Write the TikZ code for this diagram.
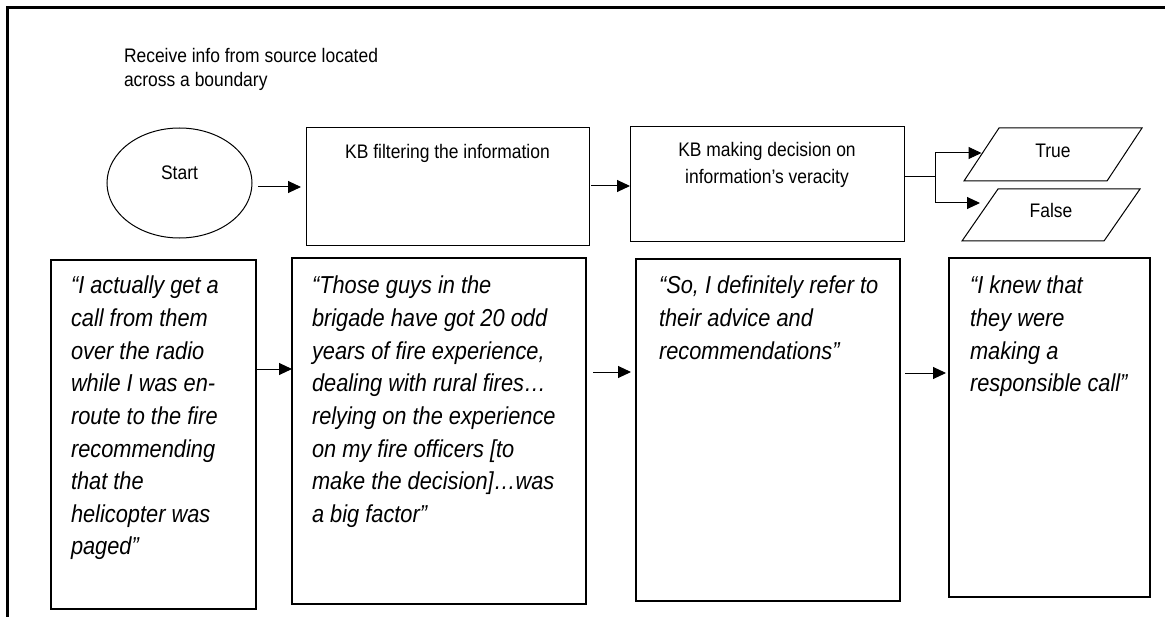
\documentclass[tikz,border=0pt]{standalone}
\usepackage{fontspec}
\setmainfont{Liberation Sans}[FakeStretch=0.89]
\usetikzlibrary{arrows.meta,shapes.geometric}
\begin{document}
\begin{tikzpicture}[x=1bp,y=-1bp,
  every node/.style={inner sep=0pt,outer sep=0pt},
  arr/.style={line width=1bp,-{Triangle[length=13bp,width=12bp]}},
  plain/.style={line width=1bp},
  stepbox/.style={draw,line width=1bp,rectangle},
  quotebox/.style={draw,line width=2bp,rectangle},
  startshape/.style={draw,line width=1bp,ellipse},
  lbl/.style={anchor=base,font=\fontsize{19.6bp}{26.8bp}\selectfont},
  qtext/.style={anchor=base west,font=\fontsize{24.5bp}{32.6bp}\selectfont\itshape}
]
\useasboundingbox (0,0) rectangle (1165,617);

% outer frame
\draw[line width=2.5bp] (7.5,617) -- (7.5,7.5) -- (1165,7.5);

% heading
\node[anchor=base west,font=\fontsize{19.6bp}{24.5bp}\selectfont] (head) at (124,62.5)
  {\parbox[t]{400bp}{Receive info from source located\\across a boundary}};

% process row
\node[startshape,minimum width=145bp,minimum height=110bp] (st) at (179.5,183) {};
\node[lbl] (stt) at (179.5,180) {Start};

\node[stepbox,minimum width=283bp,minimum height=117bp] (b1) at (447.5,186.5) {};
\node[lbl] (b1t) at (447.5,159) {KB filtering the information};

\node[stepbox,minimum width=274bp,minimum height=114bp] (b2) at (767,184) {};
\node[lbl] (b2t) at (767,156.7)
  {\parbox[t]{260bp}{\centering KB making decision on\\information’s veracity}};

% outcome parallelograms
\draw[plain,line join=miter] (964,181) -- (999,128) -- (1142,128) -- (1107,181) -- cycle;
\coordinate (trw) at (981.5,154.5);
\node[lbl] (trt) at (1053,158) {True};
\draw[plain,line join=miter] (962,241) -- (998,189) -- (1140,189) -- (1104,241) -- cycle;
\coordinate (flw) at (980,215);
\node[lbl] (flt) at (1051,218) {False};

% quotation row
\node[quotebox,minimum width=205bp,minimum height=349bp] (qa) at (153.5,434.5) {};
\node[qtext] (qat) at (71,294) {\parbox[t]{200bp}{“I actually get a\\call from them\\over the radio\\while I was en-\\route to the fire\\recommending\\that the\\helicopter was\\paged”}};

\node[quotebox,minimum width=294bp,minimum height=346bp] (qb) at (439,431) {};
\node[qtext] (qbt) at (312,294) {\parbox[t]{280bp}{“Those guys in the\\brigade have got 20 odd\\years of fire experience,\\dealing with rural fires…\\relying on the experience\\on my fire officers [to\\make the decision]…was\\a big factor”}};

\node[quotebox,minimum width=264bp,minimum height=342bp] (qc) at (768,430) {};
\node[qtext] (qct) at (659,294) {\parbox[t]{260bp}{“So, I definitely refer to\\their advice and\\recommendations”}};

\node[quotebox,minimum width=201bp,minimum height=339bp] (qd) at (1049.5,427.5) {};
\node[qtext] (qdt) at (970,294) {\parbox[t]{200bp}{“I knew that\\they were\\making a\\responsible call”}};

% connector heights
\coordinate (r1) at (0,187);
\coordinate (r2) at (0,186);
\coordinate (r3) at (0,369);
\coordinate (r4) at (0,372);
\coordinate (r5) at (0,373);
\coordinate (hb) at (935,177);
\coordinate (bt) at (935,153);
\coordinate (bf) at (935,203);

% arrows of the process row
\draw[arr,shorten <=6bp,shorten >=5bp] (st.east |- r1) -- (b1.west |- r1);
\draw[arr,shorten <=2bp] (b1.east |- r2) -- (b2.west |- r2);
\draw[plain] (b2.east |- hb) -- (hb);
\draw[plain] (bt) -- (bf);
\draw[arr] (bt) -- (bt -| trw);
\draw[arr] (bf) -- (bf -| flw);

% arrows of the quotation row
\draw[arr] (qa.east |- r3) -- (qb.west |- r3);
\draw[arr,shorten <=7bp,shorten >=5bp] (qb.east |- r4) -- (qc.west |- r4);
\draw[arr,shorten <=5bp,shorten >=3bp] (qc.east |- r5) -- (qd.west |- r5);
\end{tikzpicture}
\end{document}
